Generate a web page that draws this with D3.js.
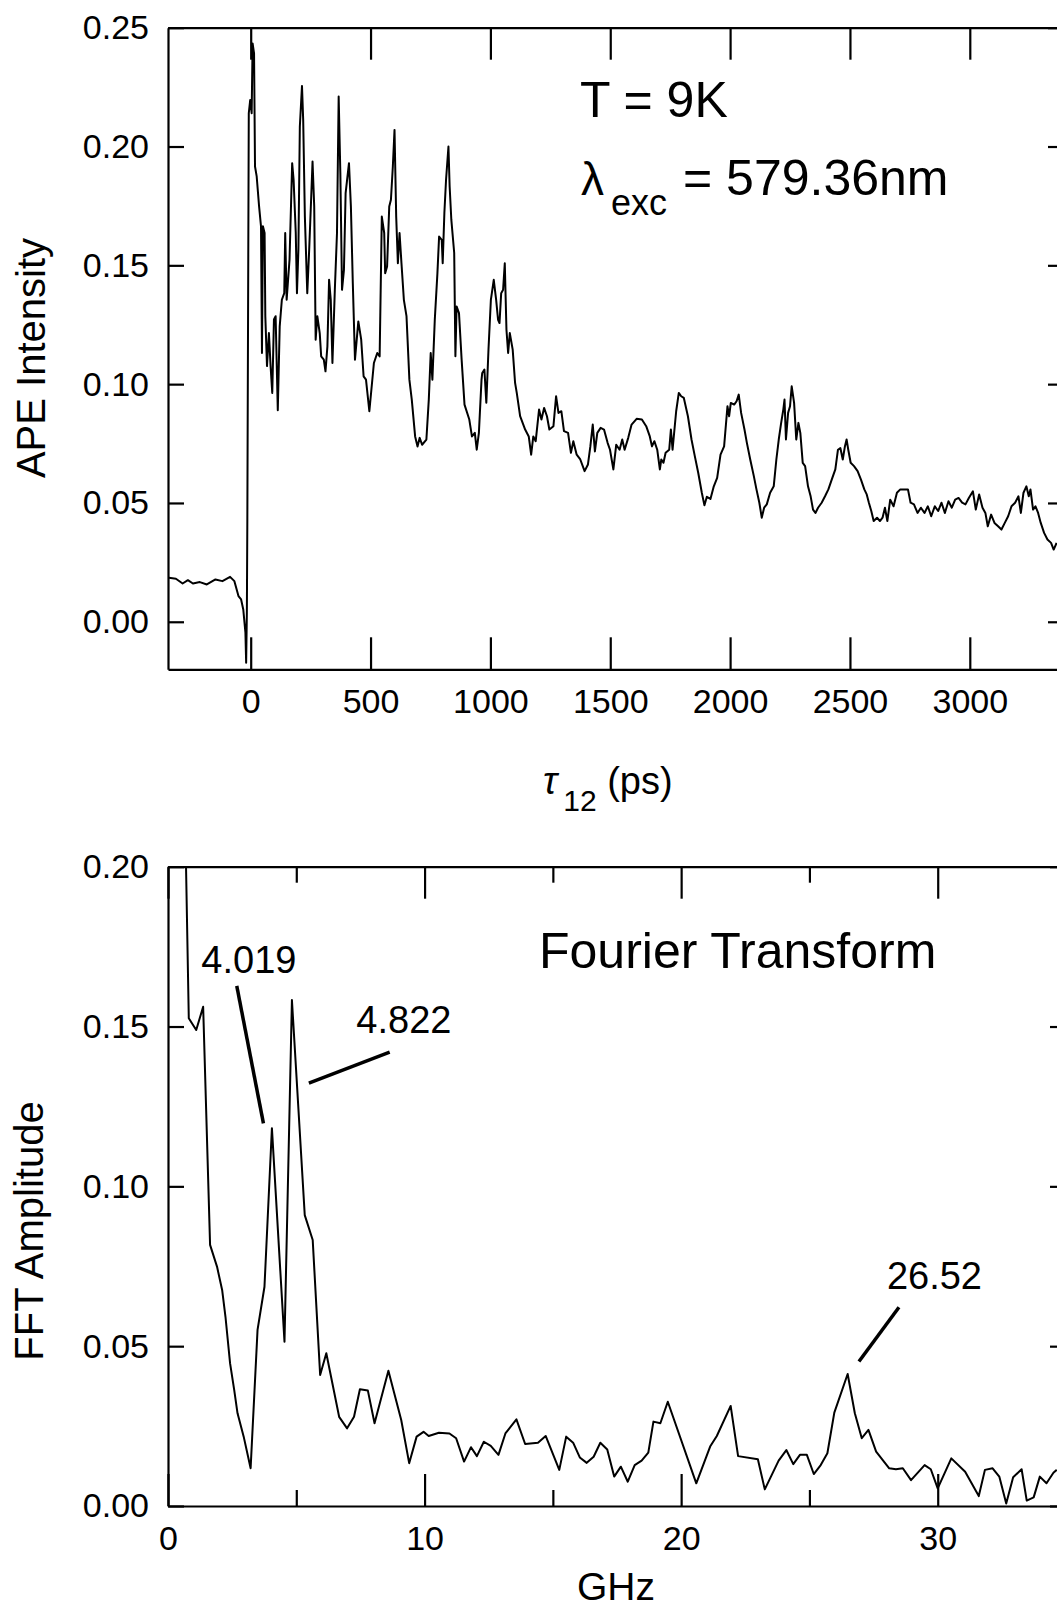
<!DOCTYPE html>
<html lang="en">
<head>
  <meta charset="UTF-8">
  <title>APE trace and Fourier transform</title>
  <style>
    body {
      margin: 0;
      background: #fff;
    }
    svg {
      display: block;
      font-family: "Liberation Sans", Arial, Helvetica, sans-serif;
    }
    .axis path, .axis line {
      stroke: #000;
      stroke-width: 2.2;
    }
    .axis text {
      font-family: "Liberation Sans", Arial, Helvetica, sans-serif;
      font-size: 34px;
      fill: #000;
    }
    .trace {
      fill: none;
      stroke: #000;
      stroke-width: 2;
      stroke-linejoin: round;
    }
    .axisTitle {
      font-size: 40px;
    }
    .big {
      font-size: 50px;
    }
    .note {
      font-size: 38px;
    }
    .leader {
      stroke: #000;
      stroke-width: 3.5;
    }
  </style>
  <script src="https://cdn.jsdelivr.net/npm/d3@7"></script>
</head>
<body>
  <div id="chart"></div>
  <script>
/* global d3 */

// ---- data ----
// APE intensity vs delay tau12 (ps)
var apeTime = [
  -341, -312, -284, -262, -241, -212, -183, -147, -118, -86, -68, -51, -40, -31, -22, -19, -16, -14,
  -8, -2, 4, 8, 14, 18, 25, 35, 43, 47, 51, 58, 61, 68, 76, 83, 90, 97, 104, 113, 121, 130, 140, 144,
  150, 162, 173, 179, 188, 193, 199, 205, 214, 219, 226, 236, 244, 252, 258, 265, 271, 278, 288, 294,
  305, 312, 320, 327, 334, 341, 351, 360, 367, 374, 381, 389, 396, 410, 418, 426, 435, 449, 461, 471,
  481, 495, 514, 528, 538, 547, 557, 561, 569, 578, 585, 593, 600, 607, 614, 621, 629, 639, 650, 662,
  672, 686, 696, 705, 715, 733, 743, 751, 758, 768, 779, 786, 797, 801, 808, 815, 825, 830, 837, 849,
  854, 859, 869, 880, 892, 912, 923, 935, 943, 952, 963, 966, 975, 983, 992, 1002, 1014, 1024, 1032,
  1038, 1045, 1053, 1060, 1067, 1074, 1081, 1093, 1103, 1110, 1124, 1145, 1160, 1170, 1179, 1189,
  1203, 1213, 1224, 1236, 1246, 1263, 1274, 1284, 1296, 1307, 1324, 1336, 1346, 1360, 1375, 1393,
  1407, 1417, 1427, 1436, 1446, 1460, 1474, 1489, 1499, 1513, 1525, 1539, 1550, 1560, 1575, 1589,
  1610, 1632, 1650, 1665, 1674, 1684, 1696, 1707, 1713, 1722, 1731, 1746, 1753, 1760, 1775, 1786,
  1796, 1807, 1824, 1839, 1853, 1867, 1882, 1893, 1903, 1918, 1932, 1946, 1960, 1975, 1989, 1996,
  2003, 2017, 2027, 2036, 2046, 2060, 2070, 2084, 2099, 2110, 2122, 2132, 2142, 2153, 2167, 2182,
  2193, 2203, 2213, 2222, 2227, 2233, 2242, 2250, 2257, 2267, 2276, 2285, 2293, 2303, 2313, 2325,
  2336, 2346, 2356, 2367, 2382, 2396, 2410, 2424, 2439, 2450, 2460, 2470, 2479, 2486, 2493, 2503,
  2517, 2532, 2546, 2560, 2570, 2579, 2589, 2599, 2613, 2625, 2636, 2646, 2656, 2668, 2682, 2696,
  2710, 2725, 2742, 2753, 2767, 2782, 2796, 2811, 2825, 2839, 2854, 2868, 2882, 2896, 2911, 2925,
  2939, 2953, 2968, 2982, 2996, 3013, 3025, 3039, 3053, 3065, 3075, 3089, 3103, 3118, 3132, 3146,
  3160, 3174, 3189, 3203, 3213, 3224, 3236, 3246, 3253, 3264, 3274, 3285, 3296, 3310, 3324, 3339,
  3350, 3362
];
var apeSignal = [
  0.0185, 0.0181, 0.0161, 0.0175, 0.0161, 0.0167, 0.0157, 0.0178, 0.0171, 0.0189, 0.0171, 0.0108,
  0.0094, 0.0052, -0.0046, -0.0172, 0.0038, 0.0430,
  0.2140, 0.2196, 0.2140, 0.2434, 0.2392, 0.1916, 0.1874, 0.1748, 0.1664, 0.1131, 0.1664, 0.1636,
  0.1286, 0.1076, 0.1215, 0.1076, 0.0963, 0.1272, 0.1286, 0.0890, 0.1243, 0.1355, 0.1383, 0.1636,
  0.1355, 0.1524, 0.1930, 0.1860, 0.1636, 0.1383, 0.1566, 0.2084, 0.2255, 0.2112, 0.1705, 0.1383,
  0.1566, 0.1776, 0.1937, 0.1748, 0.1187, 0.1286, 0.1215, 0.1117, 0.1103, 0.1054, 0.1159, 0.1439,
  0.1355, 0.1089, 0.1397, 0.1636, 0.2210, 0.1888, 0.1397, 0.1481, 0.1804, 0.1930, 0.1748, 0.1425,
  0.1103, 0.1264, 0.1187, 0.1033, 0.1019, 0.0886, 0.1089, 0.1131, 0.1117, 0.1705, 0.1636, 0.1467,
  0.1495, 0.1748, 0.1776, 0.1916, 0.2070, 0.1705, 0.1509, 0.1636, 0.1509, 0.1355, 0.1286, 0.1019,
  0.0935, 0.0780, 0.0738, 0.0774, 0.0745, 0.0767, 0.0935, 0.1131, 0.1019, 0.1271, 0.1467, 0.1621,
  0.1607, 0.1509, 0.1720, 0.1860, 0.2000, 0.1832, 0.1692, 0.1552, 0.1117, 0.1327, 0.1299, 0.1103,
  0.0914, 0.0851, 0.0780, 0.0795, 0.0724, 0.0795, 0.1019, 0.1047, 0.1061, 0.0922, 0.1145, 0.1355,
  0.1439, 0.1355, 0.1271, 0.1257, 0.1383, 0.1397, 0.1509, 0.1229, 0.1131, 0.1215, 0.1145, 0.1005,
  0.0963, 0.0865, 0.0809, 0.0780, 0.0703, 0.0780, 0.0760, 0.0893, 0.0851, 0.0900, 0.0865, 0.0809,
  0.0823, 0.0949, 0.0879, 0.0886, 0.0802, 0.0795, 0.0711, 0.0760, 0.0703, 0.0683, 0.0634, 0.0662,
  0.0738, 0.0830, 0.0717, 0.0795, 0.0816, 0.0809, 0.0753, 0.0724, 0.0641, 0.0745, 0.0724, 0.0767,
  0.0724, 0.0774, 0.0830, 0.0854, 0.0851, 0.0823, 0.0780, 0.0738, 0.0760, 0.0724, 0.0641, 0.0683,
  0.0669, 0.0711, 0.0724, 0.0809, 0.0724, 0.0886, 0.0963, 0.0949, 0.0942, 0.0865, 0.0767, 0.0696,
  0.0627, 0.0543, 0.0490, 0.0526, 0.0517, 0.0570, 0.0606, 0.0703, 0.0738, 0.0907, 0.0865, 0.0921,
  0.0914, 0.0928, 0.0956, 0.0879, 0.0809, 0.0753, 0.0683, 0.0613, 0.0557, 0.0501, 0.0438, 0.0480,
  0.0494, 0.0543, 0.0570, 0.0683, 0.0767, 0.0837, 0.0893, 0.0935, 0.0767, 0.0879, 0.0907, 0.0991,
  0.0921, 0.0767, 0.0837, 0.0795, 0.0669, 0.0655, 0.0570, 0.0528, 0.0472, 0.0458, 0.0480, 0.0501,
  0.0528, 0.0557, 0.0598, 0.0641, 0.0724, 0.0731, 0.0683, 0.0738, 0.0767, 0.0724, 0.0669, 0.0655,
  0.0634, 0.0598, 0.0557, 0.0536, 0.0501, 0.0466, 0.0424, 0.0438, 0.0424, 0.0438, 0.0480, 0.0424,
  0.0514, 0.0486, 0.0543, 0.0557, 0.0557, 0.0557, 0.0501, 0.0494, 0.0458, 0.0480, 0.0458, 0.0486,
  0.0444, 0.0486, 0.0466, 0.0501, 0.0458, 0.0507, 0.0480, 0.0514, 0.0521, 0.0501, 0.0494, 0.0521,
  0.0549, 0.0472, 0.0536, 0.0480, 0.0458, 0.0402, 0.0451, 0.0416, 0.0402, 0.0388, 0.0416, 0.0444,
  0.0486, 0.0501, 0.0528, 0.0458, 0.0543, 0.0570, 0.0528, 0.0557, 0.0472, 0.0486, 0.0458, 0.0416,
  0.0374, 0.0346, 0.0332, 0.0304, 0.0332
];

// FFT amplitude vs frequency (GHz)
var fftFreq = [
  0.68, 0.81, 1.10, 1.37, 1.64, 1.91, 2.11, 2.24, 2.42, 2.58, 2.71, 2.95, 3.22, 3.49, 3.76, 4.05,
  4.54, 4.83, 5.33, 5.64, 5.93, 6.17, 6.67, 6.98, 7.25, 7.48, 7.79, 8.05, 8.59, 9.09, 9.40, 9.69,
  9.96, 10.16, 10.56, 10.97, 11.23, 11.54, 11.81, 12.04, 12.31, 12.58, 12.88, 13.15, 13.58, 13.92,
  14.42, 14.72, 15.25, 15.52, 15.79, 16.05, 16.32, 16.59, 16.85, 17.12, 17.39, 17.65, 17.92, 18.19,
  18.46, 18.72, 18.92, 19.19, 19.48, 20.59, 21.13, 21.39, 21.93, 22.22, 22.99, 23.26, 23.80, 24.10,
  24.37, 24.63, 24.90, 25.17, 25.44, 25.70, 25.97, 26.49, 26.77, 27.04, 27.30, 27.60, 28.11, 28.37,
  28.64, 28.96, 29.49, 29.73, 30.00, 30.53, 31.07, 31.60, 31.84, 32.14, 32.40, 32.67, 32.94, 33.27,
  33.47, 33.74, 33.98, 34.24, 34.51, 34.64
];
var fftAmp = [
  0.2100, 0.1526, 0.1489, 0.1562, 0.0817, 0.0749, 0.0676, 0.0592, 0.0446, 0.0363, 0.0290, 0.0217,
  0.0118, 0.0551, 0.0686, 0.1182, 0.0514, 0.1583, 0.0910, 0.0832, 0.0410, 0.0478, 0.0279, 0.0243,
  0.0279, 0.0365, 0.0361, 0.0259, 0.0423, 0.0269, 0.0134, 0.0217, 0.0232, 0.0219, 0.0229, 0.0227,
  0.0212, 0.0139, 0.0184, 0.0156, 0.0201, 0.0188, 0.0160, 0.0227, 0.0271, 0.0194, 0.0198, 0.0219,
  0.0113, 0.0217, 0.0198, 0.0152, 0.0135, 0.0154, 0.0198, 0.0177, 0.0092, 0.0123, 0.0076, 0.0128,
  0.0142, 0.0167, 0.0264, 0.0259, 0.0326, 0.0071, 0.0186, 0.0219, 0.0313, 0.0156, 0.0146, 0.0052,
  0.0142, 0.0175, 0.0131, 0.0160, 0.0160, 0.0100, 0.0128, 0.0165, 0.0292, 0.0413, 0.0290, 0.0212,
  0.0238, 0.0170, 0.0118, 0.0115, 0.0118, 0.0081, 0.0128, 0.0115, 0.0055, 0.0149, 0.0107, 0.0031,
  0.0113, 0.0118, 0.0092, 0.0008, 0.0090, 0.0115, 0.0017, 0.0027, 0.0092, 0.0071, 0.0104, 0.0113
];

var apeXTicks = [0, 500, 1000, 1500, 2000, 2500, 3000];
var apeYTicks = [0, 0.05, 0.10, 0.15, 0.20, 0.25];
var fftXTicks = [0, 10, 20, 30];
var fftXMinor = [5, 15, 25];
var fftYTicks = [0, 0.05, 0.10, 0.15, 0.20];
var peakNames = ["4.019", "4.822", "26.52"];

// ---- layout ----
var width = 1057, height = 1607;

var svg = d3.select("#chart")
  .append("svg")
  .attr("width", width)
  .attr("height", height);

var xApe = d3.scaleLinear().domain([-345, 3393]).range([168, 1064]);
var yApe = d3.scaleLinear().domain([-0.02, 0.25]).range([669.3, 27.7]);
var xFft = d3.scaleLinear().domain([0, 35]).range([168, 1066]);
var yFft = d3.scaleLinear().domain([0, 0.2]).range([1506, 866.7]);

var fmt2 = d3.format(".2f");

// box with ticks on all four sides, pointing inward
function drawFrame(x, y, xTicks, yTicks, xFmt, minor) {
  var xr = x.range(), yr = y.range();

  svg.append("g")
    .attr("class", "axis")
    .attr("transform", "translate(0," + yr[0] + ")")
    .call(d3.axisBottom(x).tickValues(xTicks).tickFormat(xFmt)
      .tickSizeInner(-32).tickSizeOuter(0).tickPadding(20));

  svg.append("g")
    .attr("class", "axis")
    .attr("transform", "translate(0," + yr[1] + ")")
    .call(d3.axisTop(x).tickValues(xTicks).tickFormat("")
      .tickSizeInner(-32).tickSizeOuter(0));

  if (minor) {
    svg.append("g")
      .attr("class", "axis")
      .attr("transform", "translate(0," + yr[0] + ")")
      .call(d3.axisBottom(x).tickValues(minor).tickFormat("")
        .tickSizeInner(-16).tickSizeOuter(0))
      .select(".domain").remove();
    svg.append("g")
      .attr("class", "axis")
      .attr("transform", "translate(0," + yr[1] + ")")
      .call(d3.axisTop(x).tickValues(minor).tickFormat("")
        .tickSizeInner(-16).tickSizeOuter(0))
      .select(".domain").remove();
  }

  svg.append("g")
    .attr("class", "axis")
    .attr("transform", "translate(" + xr[0] + ",0)")
    .call(d3.axisLeft(y).tickValues(yTicks).tickFormat(fmt2)
      .tickSizeInner(-16).tickSizeOuter(0).tickPadding(19));

  svg.append("g")
    .attr("class", "axis")
    .attr("transform", "translate(" + xr[1] + ",0)")
    .call(d3.axisRight(y).tickValues(yTicks).tickFormat("")
      .tickSizeInner(-16).tickSizeOuter(0));
}

function addClip(id, x, y) {
  var xr = x.range(), yr = y.range();
  svg.append("clipPath")
    .attr("id", id)
    .append("rect")
    .attr("x", xr[0])
    .attr("y", yr[1])
    .attr("width", xr[1] - xr[0])
    .attr("height", yr[0] - yr[1]);
}

// ---- top panel: APE intensity ----
addClip("clipApe", xApe, yApe);
drawFrame(xApe, yApe, apeXTicks, apeYTicks, d3.format("d"));

svg.append("path")
  .datum(d3.range(apeTime.length))
  .attr("class", "trace")
  .attr("clip-path", "url(#clipApe)")
  .attr("d", d3.line()
    .x(function (i) { return xApe(apeTime[i]); })
    .y(function (i) { return yApe(apeSignal[i]); }));

svg.append("text")
  .attr("class", "axisTitle")
  .attr("transform", "translate(45,358) rotate(-90)")
  .attr("text-anchor", "middle")
  .text("APE Intensity");

var tauLabel = svg.append("text")
  .attr("x", 543)
  .attr("y", 794);
tauLabel.append("tspan")
  .style("font-size", "38px")
  .style("font-style", "italic")
  .text("\u03c4");
tauLabel.append("tspan")
  .attr("dy", 17)
  .attr("dx", 6)
  .style("font-size", "30px")
  .text("12");
tauLabel.append("tspan")
  .attr("dy", -17)
  .style("font-size", "38px")
  .text(" (ps)");

svg.append("text")
  .attr("class", "big")
  .attr("x", 580)
  .attr("y", 117)
  .text("T = 9K");

svg.append("text")
  .attr("x", 581)
  .attr("y", 195)
  .style("font-size", "46px")
  .text("\u03bb");
svg.append("text")
  .attr("x", 611)
  .attr("y", 215)
  .style("font-size", "36px")
  .text("exc");
svg.append("text")
  .attr("class", "big")
  .attr("x", 683)
  .attr("y", 195)
  .text("= 579.36nm");

// ---- bottom panel: FFT ----
addClip("clipFft", xFft, yFft);
drawFrame(xFft, yFft, fftXTicks, fftYTicks, d3.format("d"), fftXMinor);

svg.append("path")
  .datum(d3.range(fftFreq.length))
  .attr("class", "trace")
  .attr("clip-path", "url(#clipFft)")
  .attr("d", d3.line()
    .x(function (i) { return xFft(fftFreq[i]); })
    .y(function (i) { return yFft(fftAmp[i]); }));

svg.append("text")
  .attr("class", "axisTitle")
  .attr("transform", "translate(43,1231) rotate(-90)")
  .attr("text-anchor", "middle")
  .text("FFT Amplitude");

svg.append("text")
  .attr("x", 616)
  .attr("y", 1600)
  .attr("text-anchor", "middle")
  .style("font-size", "39px")
  .text("GHz");

svg.append("text")
  .attr("class", "big")
  .attr("x", 539)
  .attr("y", 968)
  .text("Fourier Transform");

// peak labels with leader lines (frequency / amplitude units)
var labelAt = [[1.30, 0.1667], [7.34, 0.1480], [28.02, 0.0679]];
var leaders = [
  [2.68, 0.1627, 3.72, 0.1197],
  [8.64, 0.1420, 5.49, 0.1323],
  [28.49, 0.0622, 26.93, 0.0452]
];

peakNames.forEach(function (name, i) {
  svg.append("text")
    .attr("class", "note")
    .attr("x", xFft(labelAt[i][0]))
    .attr("y", yFft(labelAt[i][1]))
    .text(name);
  svg.append("line")
    .attr("class", "leader")
    .attr("x1", xFft(leaders[i][0]))
    .attr("y1", yFft(leaders[i][1]))
    .attr("x2", xFft(leaders[i][2]))
    .attr("y2", yFft(leaders[i][3]));
});
  </script>
</body>
</html>
